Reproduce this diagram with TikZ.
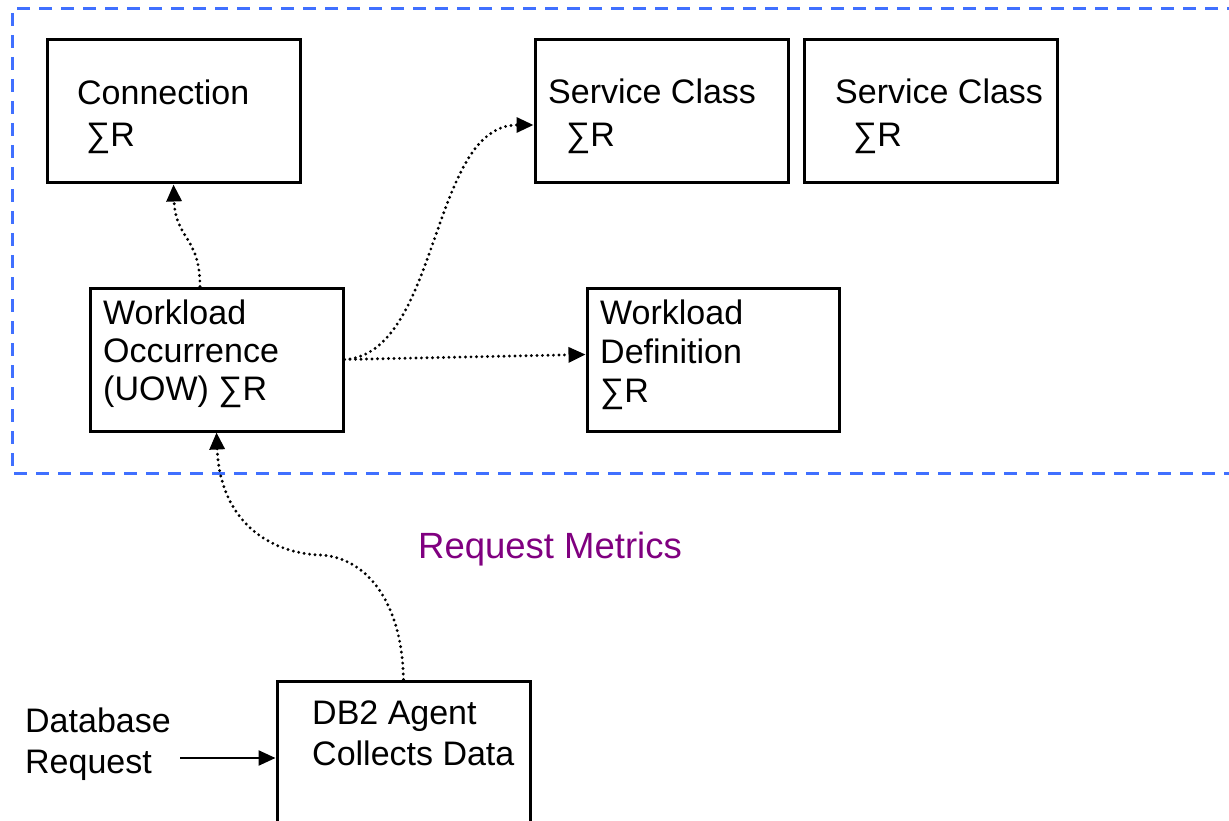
\documentclass[tikz,border=0pt]{standalone}
\usepackage{fontspec}
\setmainfont{Liberation Sans}
\usetikzlibrary{arrows.meta}
\definecolor{dashblue}{RGB}{64,112,255}
\definecolor{metricpurple}{RGB}{128,0,128}
\tikzset{
  boxnode/.style={draw=black, line width=3pt, rectangle, inner sep=0pt},
  txt/.style={anchor=base west, inner sep=0pt, font=\fontsize{34pt}{38pt}\selectfont},
  dotarrow/.style={line width=3.2pt, line cap=round, dash pattern=on 0pt off 5.5pt,
     -{Triangle[length=17pt,width=15pt]}},
  solidarrow/.style={line width=2.4pt, -{Triangle[length=17pt,width=15pt]}},
}
\begin{document}
\begin{tikzpicture}[x=1pt,y=-1pt]
\useasboundingbox (0,0) rectangle (1229,821);
% dashed group border
\draw[dashblue, line width=3pt, dash pattern=on 13pt off 9pt]
  (1240,9) -- (12,9) -- (12,473) -- (1240,473);

% boxes
\node[boxnode, minimum width=253pt, minimum height=143pt] (conn) at (173.5,111.5) {};
\node[boxnode, minimum width=253pt, minimum height=143pt] (sc1) at (661.5,111.5) {};
\node[boxnode, minimum width=253pt, minimum height=143pt] (sc2) at (930.5,111.5) {};
\node[boxnode, minimum width=253pt, minimum height=143pt] (wo) at (216.5,359.5) {};
\node[boxnode, minimum width=252pt, minimum height=143pt] (wd) at (713,359.5) {};
\node[boxnode, minimum width=253pt, minimum height=159pt] (db2) at (403.5,760.5) {};

% texts
\node[txt] (connA) at (77,105) {Connection};
\node[txt] (connB) at (86,147) {∑R};
\node[txt] (scaA) at (548,104) {Service Class};
\node[txt] (scaB) at (566,147) {∑R};
\node[txt] (scbA) at (835,104) {Service Class};
\node[txt] (scbB) at (853,147) {∑R};
\node[txt] (woA) at (103,324) {Workload};
\node[txt] (woB) at (103,362) {Occurrence};
\node[txt] (woC) at (103,400) {(UOW) ∑R};
\node[txt] (wdA) at (600,324) {Workload};
\node[txt] (wdB) at (600,363) {Definition};
\node[txt] (wdC) at (600,402) {∑R};
\node[txt] (dbA) at (312,724) {DB2 Agent};
\node[txt] (dbB) at (312,765) {Collects Data};
\node[txt] (reqA) at (25,732) {Database};
\node[txt] (reqB) at (25,773) {Request};
\node[txt, text=metricpurple, font=\fontsize{36.5pt}{40pt}\selectfont] (metrics) at (418,558) {Request Metrics};

% connectors
\coordinate (reqstart) at (180,758);
\draw[solidarrow] (reqstart) -- (reqstart -| db2.west);

\draw[dotarrow] ([xshift=-16.5pt]wo.north) .. controls +(0,-50) and +(2,55) .. (conn.south);
\draw[dotarrow] (wo.east) .. controls (440,354) and (430,125) .. ([yshift=-13.5pt]sc1.west);
\draw[dotarrow] (wo.east) -- ([yshift=5pt]wd.west);
\draw[dotarrow] (db2.north) .. controls (402,600) and (365,557) .. (320,555)
  .. controls (268,553) and (220,520) .. (wo.south);
\end{tikzpicture}
\end{document}
